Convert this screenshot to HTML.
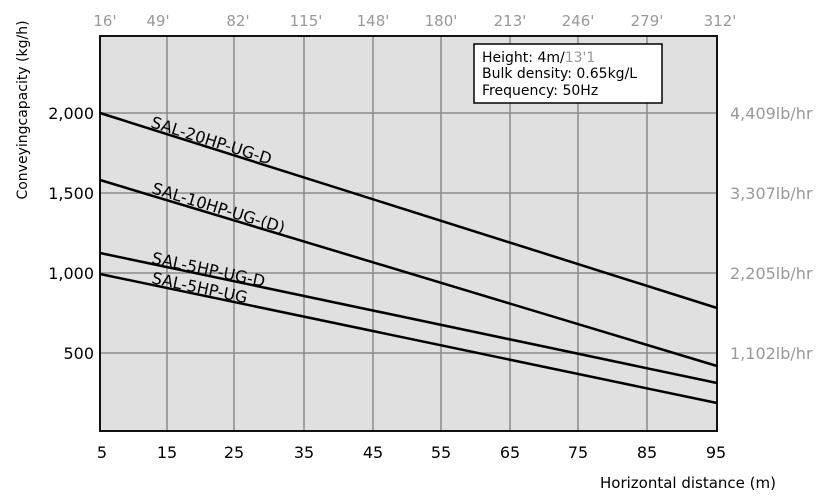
<!DOCTYPE html>
<html><head><meta charset="utf-8"><style>
html,body{margin:0;padding:0;background:#fff;}
svg{display:block;font-family:"DejaVu Sans","Liberation Sans",sans-serif;}
</style></head><body>
<svg width="825" height="502" viewBox="0 0 825 502" xmlns="http://www.w3.org/2000/svg">
<rect x="100" y="36" width="617" height="395" fill="#e0e0e0"/>
<g stroke="#8a8a8a" stroke-width="1.5">
<line x1="167" y1="36" x2="167" y2="431"/>
<line x1="234" y1="36" x2="234" y2="431"/>
<line x1="304" y1="36" x2="304" y2="431"/>
<line x1="373" y1="36" x2="373" y2="431"/>
<line x1="441" y1="36" x2="441" y2="431"/>
<line x1="510" y1="36" x2="510" y2="431"/>
<line x1="578" y1="36" x2="578" y2="431"/>
<line x1="647" y1="36" x2="647" y2="431"/>
<line x1="100" y1="113" x2="717" y2="113"/>
<line x1="100" y1="193" x2="717" y2="193"/>
<line x1="100" y1="273" x2="717" y2="273"/>
<line x1="100" y1="353" x2="717" y2="353"/>
</g>
<rect x="100" y="36" width="617" height="395" fill="none" stroke="#111" stroke-width="2"/>
<g stroke="#000" stroke-width="2.5" fill="none">
<line x1="100" y1="113" x2="717" y2="308"/>
<line x1="100" y1="180" x2="717" y2="366"/>
<line x1="100" y1="253" x2="717" y2="383"/>
<line x1="100" y1="274" x2="717" y2="403"/>
</g>
<g font-size="16" fill="#000">
<text transform="translate(150,127) rotate(17.5)">SAL-20HP-UG-D</text>
<text transform="translate(151,193) rotate(17)">SAL-10HP-UG-(D)</text>
<text transform="translate(151,263) rotate(12)">SAL-5HP-UG-D</text>
<text transform="translate(151,283) rotate(12)">SAL-5HP-UG</text>
</g>
<rect x="474" y="44" width="188" height="59" fill="#fff" stroke="#000" stroke-width="1.5"/>
<g font-size="14" fill="#000">
<text x="482" y="62">Height: 4m/<tspan fill="#999">13'1</tspan></text>
<text x="482" y="78">Bulk density: 0.65kg/L</text>
<text x="482" y="95">Frequency: 50Hz</text>
</g>
<g font-size="15" fill="#999" text-anchor="middle">
<text x="105" y="26">16'</text><text x="158" y="26">49'</text><text x="238" y="26">82'</text>
<text x="306" y="26">115'</text><text x="373" y="26">148'</text><text x="441" y="26">180'</text>
<text x="510" y="26">213'</text><text x="578" y="26">246'</text><text x="647" y="26">279'</text>
<text x="720" y="26">312'</text>
</g>
<g font-size="16" fill="#999">
<text x="730" y="119">4,409lb/hr</text><text x="730" y="199">3,307lb/hr</text>
<text x="730" y="279">2,205lb/hr</text><text x="730" y="359">1,102lb/hr</text>
</g>
<g font-size="16" fill="#000" text-anchor="end">
<text x="94" y="119">2,000</text><text x="94" y="199">1,500</text>
<text x="94" y="279">1,000</text><text x="94" y="359">500</text>
</g>
<g font-size="16" fill="#000" text-anchor="middle">
<text x="102" y="458">5</text><text x="167" y="458">15</text><text x="234" y="458">25</text>
<text x="304" y="458">35</text><text x="373" y="458">45</text><text x="441" y="458">55</text>
<text x="510" y="458">65</text><text x="578" y="458">75</text><text x="647" y="458">85</text>
<text x="716" y="458">95</text>
</g>
<text x="688" y="488" font-size="15" fill="#000" text-anchor="middle">Horizontal distance (m)</text>
<text transform="translate(27,110) rotate(-90)" font-size="14" fill="#000" text-anchor="middle">Conveyingcapacity (kg/h)</text>
</svg>
</body></html>
